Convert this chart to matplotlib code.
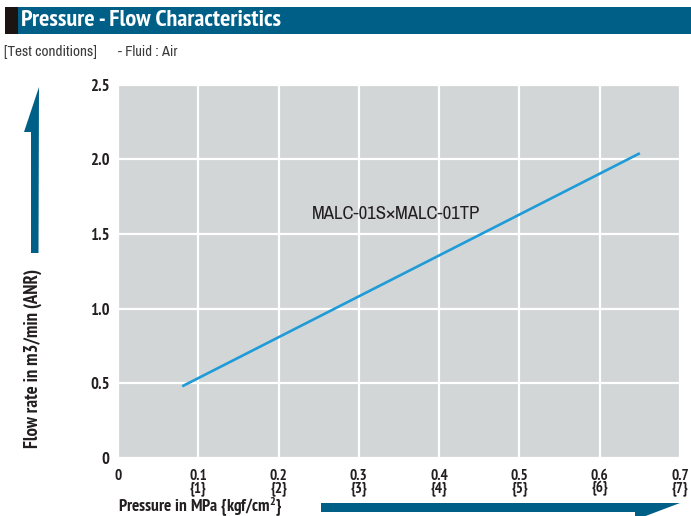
import numpy as np
import matplotlib.pyplot as plt
from matplotlib.patches import Polygon, Rectangle

NARROW = ['Archivo Narrow', 'PT Sans Narrow', 'DejaVu Sans']
BOLD = ['PT Sans Narrow', 'Barlow Condensed', 'DejaVu Sans']
plt.rcParams['font.family'] = NARROW
plt.rcParams['mathtext.fontset'] = 'custom'
plt.rcParams['mathtext.rm'] = 'PT Sans Narrow:bold'
plt.rcParams['mathtext.it'] = 'PT Sans Narrow:bold'
plt.rcParams['mathtext.bf'] = 'PT Sans Narrow:bold'

# data
pressure = [0.08, 0.65]          # MPa
flow = [0.48, 2.04]              # m3/min (ANR)
series_name = "MALC-01S×MALC-01TP"
xticks = [0, 0.1, 0.2, 0.3, 0.4, 0.5, 0.6, 0.7]
xtick_labels = ["0", "0.1\n{1}", "0.2\n{2}", "0.3\n{3}", "0.4\n{4}",
                "0.5\n{5}", "0.6\n{6}", "0.7\n{7}"]
yticks = [0, 0.5, 1.0, 1.5, 2.0, 2.5]
ytick_labels = ["0", "0.5", "1.0", "1.5", "2.0", "2.5"]

W, H = 691, 516
fig = plt.figure(figsize=(W / 100, H / 100), dpi=100)

# overlay in pixel coords for header bar and arrows
ov = fig.add_axes([0, 0, 1, 1])
ov.set_xlim(0, W)
ov.set_ylim(H, 0)
ov.axis('off')

blue = '#005f87'
dark = '#231f20'
ov.add_patch(Rectangle((5, 7), 13, 26.5, color='#1c1412', lw=0))
ov.add_patch(Rectangle((18, 7), 673, 26.5, color=blue, lw=0))
ov.text(21, 21, "Pressure - Flow Characteristics", color='white',
        fontsize=17.5, fontweight='bold', family=BOLD, va='center', ha='left')
ov.text(4, 52, "[Test conditions]", color='#3a3a3a', fontsize=11,
        va='center', ha='left')
ov.text(118, 52, "- Fluid : Air", color='#3a3a3a', fontsize=10.5,
        va='center', ha='left')

# vertical arrow (half head on left)
ov.add_patch(Polygon([(31, 253), (31, 132), (24, 132), (39, 87), (38.5, 253)],
                     closed=True, color=blue, lw=0))
# horizontal arrow (half head below)
ov.add_patch(Polygon([(321, 503), (680, 503), (635, 520), (635, 512), (321, 512)],
                     closed=True, color=blue, lw=0))

ov.text(33, 358, "Flow rate in m3/min (ANR)", rotation=90, fontsize=13.5,
        fontweight='bold', family=BOLD, color=dark, ha='center', va='center')
ov.text(118, 512, "Pressure in MPa {kgf/cm$^{2}$}", fontsize=12.5,
        fontweight='bold', family=BOLD, color=dark, ha='left', va='baseline')

ax = fig.add_axes([118 / W, 1 - 458 / H, (680 - 118) / W, (458 - 84.5) / H])
ax.set_facecolor('#d3d6d7')
ax.plot(pressure, flow, color='#1f9bd7', lw=1.9, solid_capstyle='butt')
ax.text(0.346, 1.63, series_name, fontsize=13.5, color=dark,
        ha='center', va='center')

ax.set_xlim(0, 0.7)
ax.set_ylim(0, 2.5)
ax.set_xticks(xticks)
ax.set_xticklabels(xtick_labels, fontweight='bold', family=BOLD, fontsize=11,
                   color=dark, linespacing=0.8)
ax.set_yticks(yticks)
ax.set_yticklabels(ytick_labels, fontweight='bold', family=BOLD, fontsize=12,
                   color=dark)
ax.tick_params(axis='x', length=0, pad=8)
ax.tick_params(axis='y', length=0, pad=6)
ax.grid(True, color='white', lw=1.6)
ax.set_axisbelow(True)
for s in ax.spines.values():
    s.set_visible(False)

fig.savefig('out.png', dpi=100)
